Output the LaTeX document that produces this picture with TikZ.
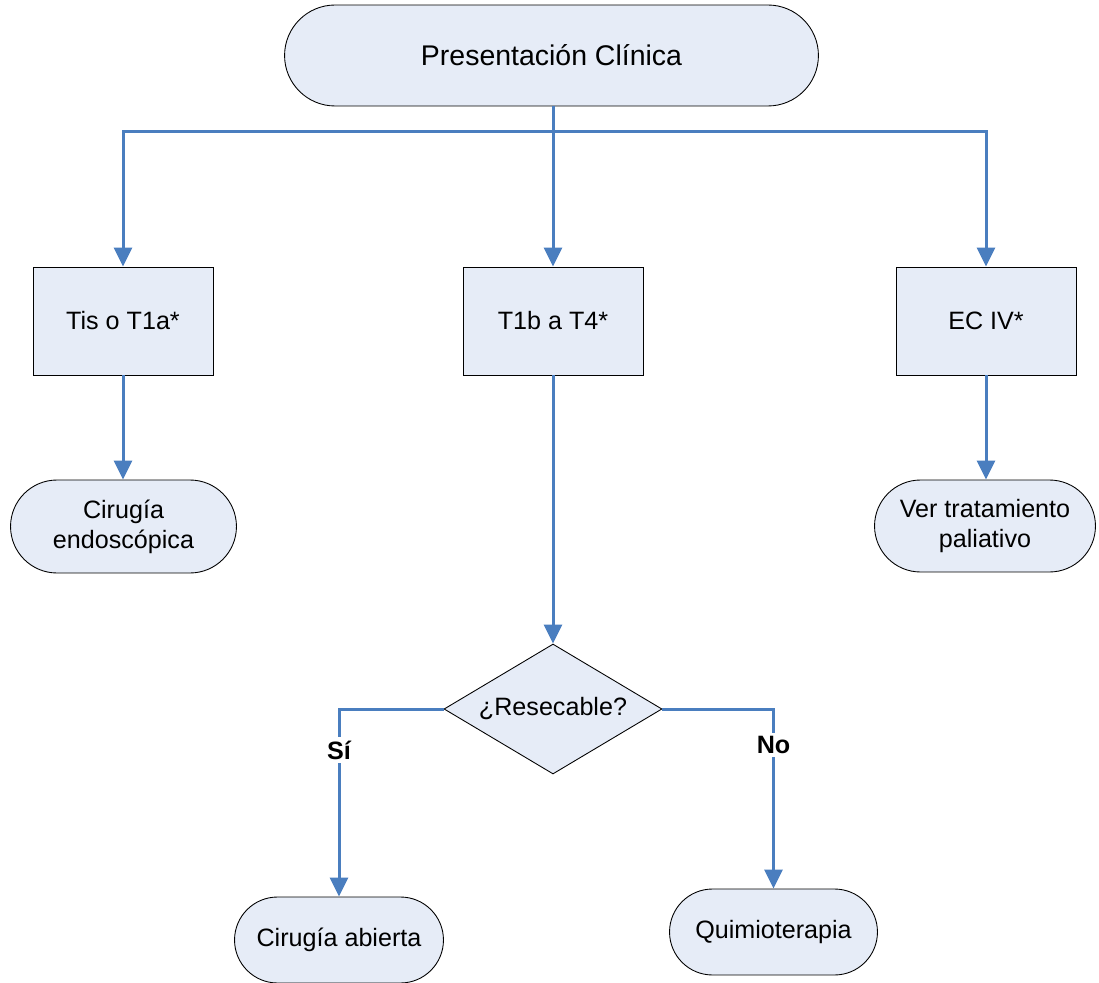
\documentclass[tikz,border=0pt]{standalone}
\usepackage{fontspec}
\setmainfont{Liberation Sans}
\usetikzlibrary{arrows.meta, shapes.misc, shapes.geometric}
\definecolor{boxfill}{HTML}{E6ECF7}
\definecolor{flowblue}{HTML}{4A7EBF}
\tikzset{>={Triangle[width=0.36cm,length=0.38cm]}}
\tikzset{
  box/.style={draw=black, line width=0.5pt, fill=boxfill, rectangle,
    minimum width=3.6cm, minimum height=2.16cm, align=center},
  term/.style={draw=black, line width=0.5pt, fill=boxfill, rounded rectangle,
    align=center, inner sep=2pt},
  decision/.style={draw=black, line width=0.5pt, fill=boxfill, diamond, aspect=1.68,
    minimum width=4.36cm, minimum height=2.6cm, inner sep=0pt},
  flow/.style={draw=flowblue, line width=0.06cm},
  yesno/.style={fill=white, font=\bfseries\fontsize{14.3}{17}\selectfont, inner sep=2pt}
}

\begin{document}
\begin{tikzpicture}[x=0.02cm, y=-0.02cm, font=\fontsize{14.3}{17}\selectfont]
\useasboundingbox (0,0) rectangle (1099,983);

\node[term, minimum width=10.82cm, minimum height=2.02cm, font=\fontsize{16.2}{19}\selectfont] (pres) at (551.5,55.5) {Presentación Clínica};

\node[box] (tis) at (123,321) {Tis o T1a*};
\node[box] (t1b) at (553,321) {T1b a T4*};
\node[box] (ec) at (986,321) {EC IV*};

\node[term, minimum width=4.66cm, minimum height=1.86cm] (endo) at (123.5,526.5) {Cirugía\\endoscópica};
\node[term, minimum width=4.56cm, minimum height=1.84cm] (pal) at (985,526) {Ver tratamiento\\paliativo};

\node[decision] (res) at (553,709) {¿Resecable?};

\node[term, minimum width=4.32cm, minimum height=1.72cm] (abierta) at (339,940) {Cirugía abierta};
\node[term, minimum width=4.3cm, minimum height=1.72cm] (quimio) at (773.5,932) {Quimioterapia};

\coordinate (bus) at (553,132);

% conectores
\draw[flow] (pres.south -| bus) -- (bus);
\draw[flow,->] (bus) -| (tis.north);
\draw[flow,->] (bus) -- (t1b.north);
\draw[flow,->] (bus) -| (ec.north);
\draw[flow,->] (tis.south) -- (tis.south |- endo.north);
\draw[flow,->] (ec.south) -- (ec.south |- pal.north);
\draw[flow,->] (t1b) -- (res);
\draw[flow,->] (res.west) -| node[yesno, pos=0.61] {Sí} (abierta.north);
\draw[flow,->] (res.east) -| node[yesno, pos=0.6] {No} (quimio.north);
\end{tikzpicture}
\end{document}
